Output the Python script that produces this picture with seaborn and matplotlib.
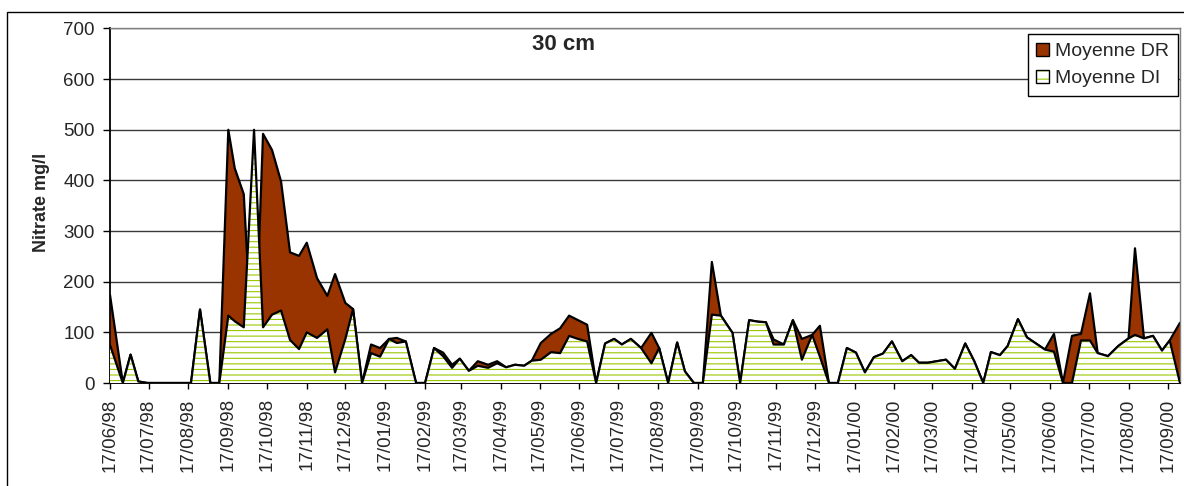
import numpy as np
import pandas as pd
import matplotlib
matplotlib.use("Agg")
import matplotlib.pyplot as plt
import matplotlib.dates as mdates
from matplotlib.patches import Patch, Rectangle
from matplotlib.legend_handler import HandlerTuple
import seaborn as sns

# sampling dates, read as days after the first date (17/06/98)
start_date = "1998-06-17"
day_offsets = [0, 10, 16, 22, 29, 63, 70, 78, 85, 92, 97, 104, 112, 119, 126, 133,
               140, 147, 153, 161, 169, 175, 183, 189, 196, 203, 210, 217, 223, 230,
               238, 245, 252, 259, 266, 272, 279, 286, 294, 301, 308, 315, 322, 328,
               335, 343, 350, 357, 364, 371, 378, 385, 392, 398, 405, 413, 421, 427,
               434, 441, 447, 454, 461, 468, 475, 484, 490, 497, 504, 510, 516, 524,
               531, 538, 546, 552, 559, 566, 573, 580, 587, 594, 601, 608, 616, 623,
               629, 636, 643, 650, 657, 665, 672, 679, 685, 692, 698, 706, 713, 720,
               727, 734, 741, 748, 755, 762, 768, 776, 784, 792, 797, 804, 811, 818,
               824, 832]

moyenne_dr = [174, 0, 56, 3, 0, 0, 145, 0, 0, 500, 424, 373, 0, 492, 460, 398,
              258, 251, 277, 207, 172, 215, 158, 146, 0, 76, 69, 87, 89, 82,
              0, 0, 69, 60, 36, 48, 24, 43, 36, 43, 31, 36, 34, 44,
              79, 97, 108, 133, 124, 115, 0, 78, 87, 76, 87, 69, 99, 69,
              0, 80, 23, 0, 0, 239, 133, 99, 0, 124, 121, 120, 86, 76,
              124, 87, 95, 113, 0, 0, 69, 60, 21, 51, 58, 82, 43, 55,
              40, 40, 43, 46, 28, 78, 43, 0, 61, 55, 73, 126, 90, 78,
              66, 97, 0, 93, 97, 177, 59, 53, 73, 88, 266, 88, 93, 64,
              84, 119]

moyenne_di = [75, 0, 56, 3, 0, 0, 145, 0, 0, 133, 122, 110, 500, 110, 135, 143,
              85, 67, 100, 89, 106, 21, 87, 146, 0, 59, 52, 87, 79, 82,
              0, 0, 69, 53, 30, 48, 24, 34, 30, 39, 31, 36, 34, 44,
              46, 61, 59, 93, 87, 82, 0, 78, 87, 76, 87, 69, 39, 69,
              0, 80, 23, 0, 0, 135, 133, 99, 0, 124, 121, 120, 76, 76,
              124, 46, 95, 52, 0, 0, 69, 60, 21, 51, 58, 82, 43, 55,
              40, 40, 43, 46, 28, 78, 43, 0, 61, 55, 73, 126, 90, 78,
              66, 62, 0, 0, 84, 84, 59, 53, 73, 88, 95, 88, 93, 64,
              84, 0]

series_labels = ["Moyenne DR", "Moyenne DI"]
y_ticks = [0, 100, 200, 300, 400, 500, 600, 700]
n_month_ticks = 28

dates = pd.Timestamp(start_date) + pd.to_timedelta(day_offsets, unit="D")
df = pd.DataFrame({"date": dates, "DR": moyenne_dr, "DI": moyenne_di})

sns.set_style("white")
plt.rcParams["font.family"] = ["Liberation Sans", "DejaVu Sans"]
plt.rcParams["hatch.linewidth"] = 0.8

W, H = 1184, 486
fig = plt.figure(figsize=(W / 100, H / 100), dpi=100)
ax = fig.add_axes([110 / W, 1 - 383 / H, (1180 - 110) / W, (383 - 28.5) / H])

brown = "#993300"
hatch_green = "#99c800"

# DR area behind, DI area in front (Excel area chart)
ax.fill_between(df["date"], 0, df["DR"], facecolor=brown, edgecolor=brown,
                linewidth=0, zorder=2)
sns.lineplot(data=df, x="date", y="DR", color="black", linewidth=1.6,
             ax=ax, zorder=2.1, estimator=None)
ax.fill_between(df["date"], 0, df["DI"], facecolor="white", edgecolor=hatch_green,
                hatch="---", linewidth=0, zorder=3)
sns.lineplot(data=df, x="date", y="DI", color="black", linewidth=1.6,
             ax=ax, zorder=3.1, estimator=None)

ax.set_xlim(df["date"].iloc[0], df["date"].iloc[-1])
ax.set_ylim(0, 700)
ax.set_yticks(y_ticks)
ax.yaxis.grid(True, color="#3a3a3a", linewidth=1.0)
ax.set_axisbelow(True)

month_ticks = [pd.Timestamp(start_date) + pd.DateOffset(months=i) for i in range(n_month_ticks)]
ax.set_xticks(month_ticks)
ax.xaxis.set_major_formatter(mdates.DateFormatter("%d/%m/%y"))
ax.tick_params(axis="x", direction="out", length=4, width=1, pad=7,
               labelsize=13.5, labelrotation=90, bottom=True, color="black")
ax.tick_params(axis="y", direction="out", length=5, width=1, pad=6,
               labelsize=13.5, left=True, color="black")
ax.set_xlabel("")
ax.set_ylabel("")

for side in ["left", "bottom"]:
    ax.spines[side].set_color("black")
    ax.spines[side].set_linewidth(1.3)
for side in ["top", "right"]:
    ax.spines[side].set_color("#808080")
    ax.spines[side].set_linewidth(1.0)

fig.text(564 / W, 1 - 45 / H, "30 cm", ha="center", va="center",
         fontsize=16, fontweight="bold")
fig.text(42 / W, 1 - 202 / H, "Nitrate mg/l", ha="center", va="center",
         rotation=90, fontsize=13, fontweight="bold")

dr_handle = Patch(facecolor=brown, edgecolor="black", linewidth=1.0)
di_handle = (Patch(facecolor="white", edgecolor=hatch_green, hatch="--", linewidth=0),
             Patch(facecolor="none", edgecolor="black", linewidth=1.0))
leg = ax.legend([dr_handle, di_handle], series_labels, loc="upper right",
                bbox_to_anchor=(1177.5 / W, 1 - 34 / H), bbox_transform=fig.transFigure,
                fontsize=14, frameon=True, fancybox=False, edgecolor="black",
                framealpha=1, handlelength=0.65, handleheight=0.65,
                handletextpad=0.3, labelspacing=0.5, borderpad=0.45,
                borderaxespad=0, handler_map={tuple: HandlerTuple(ndivide=1, pad=0)})
leg.get_frame().set_linewidth(1.0)
leg.set_zorder(10)

# outer chart border
fig.patches.append(Rectangle((7.3 / W, -0.1), 1.2, 1.1 - 11.7 / H,
                             transform=fig.transFigure, fill=False,
                             edgecolor="black", linewidth=1.0))

fig.savefig("out.png", dpi=100)
